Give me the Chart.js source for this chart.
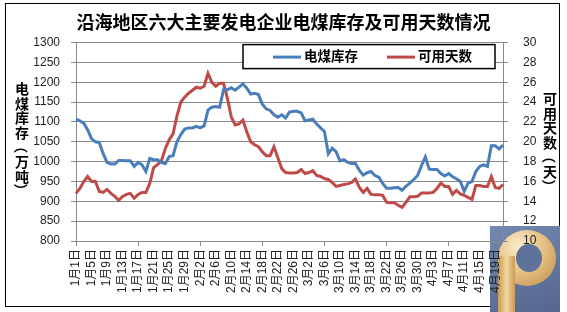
<!DOCTYPE html>
<html>
<head>
<meta charset="utf-8">
<script src="https://cdn.jsdelivr.net/npm/chart.js@4.4.1/dist/chart.umd.min.js"></script>
<style>
    html, body { margin: 0; padding: 0; background: #fff; }
    #wrap { position: relative; width: 567px; height: 312px; overflow: hidden; }
    #frame { position: absolute; left: 5px; top: 3px; width: 553px; height: 302px; border: 1px solid #000; }
    #logo { position: absolute; left: 490px; top: 226px; width: 70px; height: 86px;
            background: linear-gradient(160deg, #7488b0, #53668f); }
    #logo .ring { position: absolute; left: 8px; top: 4px; width: 58px; height: 56px; border-radius: 50%;
            background: radial-gradient(circle at 35% 30%, #fcecc9, #e0b97a 55%, #b98a44); }
    #logo .hole { position: absolute; left: 26px; top: 18px; width: 26px; height: 28px; border-radius: 50%;
            background: #5f7299; }
    #logo .stem { position: absolute; left: 8px; top: 30px; width: 17px; height: 56px;
            background: linear-gradient(90deg, #c99a52, #f1d7a3, #c99a52); }
    #chart { position: absolute; left: 0; top: 0; }
    .vlabel { position: absolute; width: 16px; font: bold 14px "Noto Sans CJK SC", sans-serif; color: #000; }
    .vlabel span { display: block; height: 14.6px; line-height: 14.6px; text-align: center; }
    .vlabel span.br { transform: rotate(90deg); }
</style>
</head>
<body>
<div id="wrap">
    <div id="frame"></div>
    <div id="logo"><div class="ring"></div><div class="hole"></div><div class="stem"></div></div>
    <canvas id="chart" width="567" height="312"></canvas>
    <div class="vlabel" id="leftTitle" style="left:14px; top:81px;"></div>
    <div class="vlabel" id="rightTitle" style="left:542px; top:91px;"></div>
</div>
<script>
// 日期（每日一个点）
const dates = [
    '1月1日','1月2日','1月3日','1月4日','1月5日','1月6日','1月7日','1月8日','1月9日','1月10日',
    '1月11日','1月12日','1月13日','1月14日','1月15日','1月16日','1月17日','1月18日','1月19日','1月20日',
    '1月21日','1月22日','1月23日','1月24日','1月25日','1月26日','1月27日','1月28日','1月29日','1月30日','1月31日',
    '2月1日','2月2日','2月3日','2月4日','2月5日','2月6日','2月7日','2月8日','2月9日','2月10日',
    '2月11日','2月12日','2月13日','2月14日','2月15日','2月16日','2月17日','2月18日','2月19日','2月20日',
    '2月21日','2月22日','2月23日','2月24日','2月25日','2月26日','2月27日','2月28日',
    '3月1日','3月2日','3月3日','3月4日','3月5日','3月6日','3月7日','3月8日','3月9日','3月10日',
    '3月11日','3月12日','3月13日','3月14日','3月15日','3月16日','3月17日','3月18日','3月19日','3月20日',
    '3月21日','3月22日','3月23日','3月24日','3月25日','3月26日','3月27日','3月28日','3月29日','3月30日','3月31日',
    '4月1日','4月2日','4月3日','4月4日','4月5日','4月6日','4月7日','4月8日','4月9日','4月10日',
    '4月11日','4月12日','4月13日','4月14日','4月15日','4月16日','4月17日','4月18日','4月19日','4月20日','4月21日'
];

// 电煤库存（万吨）
const stock = [
    1107, 1103, 1097, 1080, 1058, 1050, 1048, 1020, 998, 994, 994,
    1003, 1003, 1002, 1002, 988, 998, 992, 975, 1008, 1005,
    1005, 998, 995, 1013, 1015, 1050, 1068, 1082, 1085, 1085,
    1089, 1085, 1090, 1130, 1137, 1139, 1137, 1181, 1181, 1186,
    1180, 1188, 1196, 1185, 1170, 1172, 1169, 1145, 1133, 1129,
    1118, 1112, 1118, 1110, 1125, 1127, 1127, 1123, 1103, 1105,
    1107, 1095, 1085, 1076, 1020, 1034, 1025, 1002, 1005, 998,
    995, 995, 978, 966, 972, 975, 965, 961, 945, 933,
    933, 934, 935, 928, 938, 946, 955, 965, 990, 1012,
    981, 980, 980, 970, 964, 970, 962, 957, 950, 925,
    946, 950, 975, 988, 992, 988, 1040, 1040, 1032, 1042
];

// 可用天数（天）
const days = [
    14.8, 15.3, 16.0, 16.5, 16.0, 16.0, 15.0, 14.9, 15.2, 14.8, 14.5,
    14.1, 14.5, 14.7, 14.8, 14.3, 14.7, 14.9, 14.9, 15.8, 17.4,
    17.7, 18.1, 19.3, 20.2, 20.8, 22.6, 24.0, 24.5, 24.9, 25.2,
    25.5, 25.4, 25.6, 26.9, 26.0, 25.6, 25.9, 25.9, 24.4, 22.5,
    21.7, 21.8, 22.2, 21.0, 20.0, 19.7, 19.5, 19.0, 18.6, 18.6,
    19.5, 18.4, 17.3, 16.9, 16.85, 16.85, 16.9, 17.2, 16.8, 16.9,
    17.1, 16.6, 16.5, 16.3, 16.2, 15.9, 15.5, 15.6, 15.7, 15.76,
    15.9, 16.25, 15.4, 14.9, 15.3, 14.7, 14.65, 14.65, 14.6, 13.9,
    13.85, 13.85, 13.6, 13.4, 13.9, 14.45, 14.45, 14.5, 14.85, 14.85,
    14.85, 14.9, 15.3, 15.85, 15.5, 15.5, 14.7, 15.1, 14.75, 14.6,
    14.4, 14.2, 15.6, 15.6, 15.5, 15.5, 16.5, 15.4, 15.3, 15.7
];

const seriesNames = ['电煤库存', '可用天数'];
const seriesColors = ['#4a7ebb', '#be4b48'];
const axisTitles = ['电煤库存（万吨）', '可用天数（天）'];

const tickFont = { family: '"Liberation Sans", "Noto Sans CJK SC", sans-serif', size: 12 };
const gridColor = '#8a8a8a';

// 竖排的坐标轴标题，一个字一行，括号转 90 度
function verticalText(el, text) {
    for (const ch of text) {
        const s = document.createElement('span');
        s.textContent = ch;
        if (ch === '（' || ch === '）') s.className = 'br';
        el.appendChild(s);
    }
}
verticalText(document.getElementById('leftTitle'), axisTitles[0]);
verticalText(document.getElementById('rightTitle'), axisTitles[1]);

// 图例：画在绘图区右上角的方框里
const legendBox = {
    id: 'legendBox',
    afterDatasetsDraw(chart) {
        const c = chart.ctx;
        const area = chart.chartArea;
        const right = area.right - 8;
        const top = area.top + 2;
        const w = 252, h = 24;
        const left = right - w;
        c.save();
        c.fillStyle = '#fff';
        c.fillRect(left, top, w, h);
        c.strokeStyle = '#000';
        c.lineWidth = 1.5;
        c.strokeRect(left, top, w, h);
        c.font = 'bold 13.5px "Noto Sans CJK SC", sans-serif';
        c.textBaseline = 'middle';
        const starts = [left + 30, left + 144];
        chart.data.datasets.forEach((ds, i) => {
            const x = starts[i];
            c.strokeStyle = ds.borderColor;
            c.lineWidth = 3;
            c.beginPath();
            c.moveTo(x, top + h / 2 + 0.5);
            c.lineTo(x + 28, top + h / 2 + 0.5);
            c.stroke();
            c.fillStyle = '#000';
            c.fillText(ds.label, x + 31, top + h / 2 - 1);
        });
        c.restore();
    }
};

const ctx = document.getElementById('chart').getContext('2d');
new Chart(ctx, {
    type: 'line',
    data: {
        labels: dates,
        datasets: [{
            label: seriesNames[0],
            data: stock,
            yAxisID: 'y',
            borderColor: seriesColors[0],
            borderWidth: 3,
            pointRadius: 0,
            tension: 0,
            fill: false
        }, {
            label: seriesNames[1],
            data: days,
            yAxisID: 'y1',
            borderColor: seriesColors[1],
            borderWidth: 3,
            pointRadius: 0,
            tension: 0,
            fill: false
        }]
    },
    options: {
        responsive: false,
        animation: false,
        layout: { padding: 0 },
        plugins: {
            legend: { display: false },
            tooltip: { enabled: false },
            title: {
                display: true,
                text: '沿海地区六大主要发电企业电煤库存及可用天数情况',
                color: '#000',
                font: { family: '"Noto Sans CJK SC", sans-serif', size: 18, weight: 'bold' },
                padding: { top: 11, bottom: 10 }
            }
        },
        scales: {
            x: {
                grid: {
                    drawOnChartArea: false,
                    tickLength: 5,
                    color: gridColor,
                    tickColor: c => (c.index % 4 === 0 ? gridColor : 'rgba(0,0,0,0)')
                },
                border: { color: gridColor },
                ticks: {
                    autoSkip: false,
                    minRotation: 90,
                    maxRotation: 90,
                    padding: 3,
                    color: '#222',
                    font: tickFont,
                    callback: (v, i) => (i % 4 === 0 ? dates[i] : null)
                },
                afterFit: s => { s.height = 71; }
            },
            y: {
                position: 'left',
                min: 800,
                max: 1300,
                ticks: { stepSize: 50, padding: 11, color: '#222', font: tickFont, callback: v => String(v) },
                grid: { color: gridColor, tickLength: 5 },
                border: { color: gridColor },
                afterFit: s => { s.width = 76; }
            },
            y1: {
                position: 'right',
                min: 10,
                max: 30,
                ticks: { stepSize: 2, padding: 15, color: '#222', font: tickFont, callback: v => String(v) },
                grid: { drawOnChartArea: false, color: gridColor, tickLength: 5 },
                border: { color: gridColor },
                afterFit: s => { s.width = 64; }
            }
        }
    },
    plugins: [legendBox]
});
</script>
</body>
</html>
